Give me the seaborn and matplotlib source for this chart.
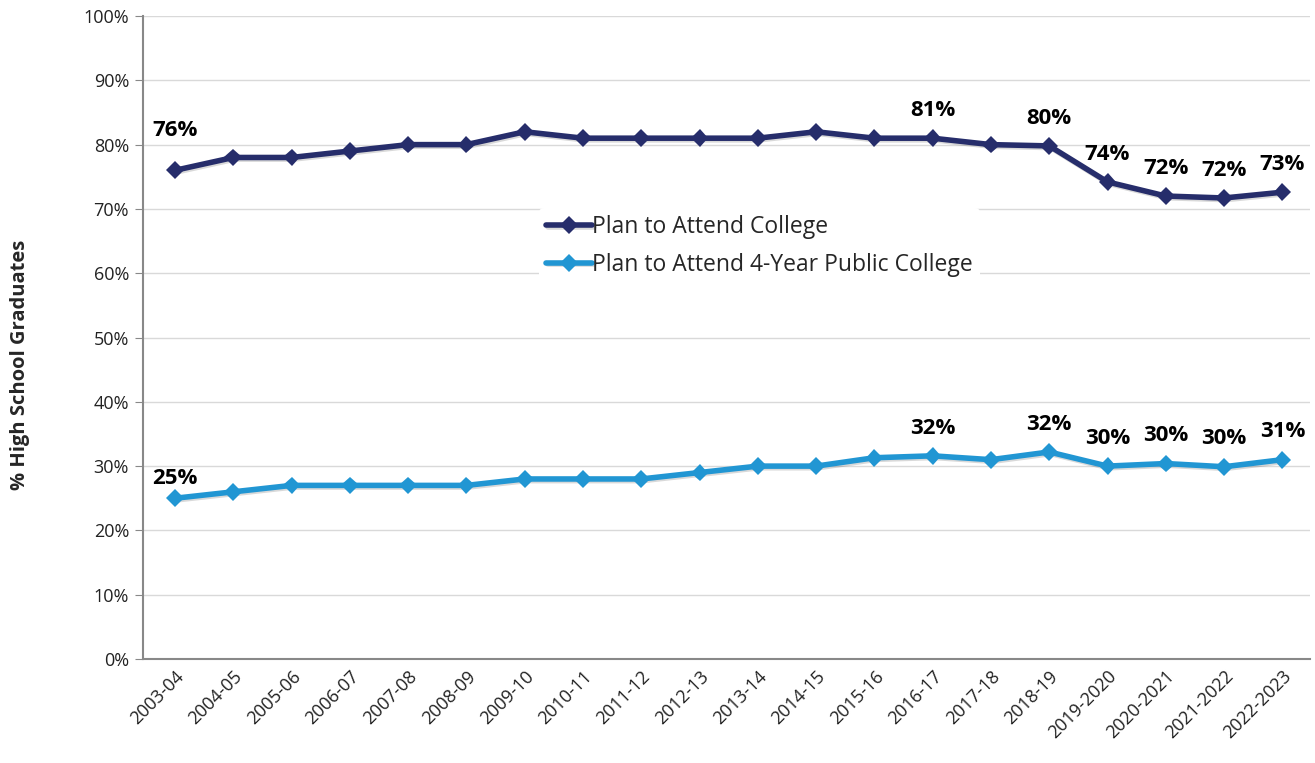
import numpy as np
import pandas as pd
import seaborn as sns
import matplotlib.pyplot as plt
import matplotlib.patheffects as pe
from matplotlib.ticker import PercentFormatter

years = [
    "2003-04", "2004-05", "2005-06", "2006-07", "2007-08", "2008-09", "2009-10",
    "2010-11", "2011-12", "2012-13", "2013-14", "2014-15", "2015-16", "2016-17",
    "2017-18", "2018-19", "2019-2020", "2020-2021", "2021-2022", "2022-2023",
]
college = [76, 78, 78, 79, 80, 80, 82, 81, 81, 81, 81, 82, 81, 81, 80, 79.8, 74.2, 72.0, 71.7, 72.6]
public4 = [25, 26, 27, 27, 27, 27, 28, 28, 28, 29, 30, 30, 31.3, 31.6, 31.0, 32.2, 30.0, 30.4, 29.9, 31.0]
labeled = [0, 13, 15, 16, 17, 18, 19]

names = ["Plan to Attend College", "Plan to Attend 4-Year Public College"]
colors = ["#262d6b", "#2196d3"]

df = pd.DataFrame({"year": years * 2,
                   "pct": college + public4,
                   "series": [names[0]] * len(years) + [names[1]] * len(years)})
df["x"] = list(range(len(years))) * 2

sns.set_style("white")
plt.rcParams["font.family"] = ["Open Sans", "DejaVu Sans"]

fig = plt.figure(figsize=(13.15, 7.63), dpi=100)
ax = fig.add_axes([0.1087, 0.1363, 0.8873, 0.8427])

shadow = [pe.SimpleLineShadow(offset=(1, -1.2), alpha=0.15, shadow_color="black"), pe.Normal()]
sns.lineplot(data=df, x="x", y="pct", hue="series", palette=colors, marker="D",
             markersize=9, linewidth=4, markeredgewidth=0, ax=ax,
             path_effects=shadow)

# data labels
for vals in (college, public4):
    for i in labeled:
        off = 20 if i > 0 else (29 if vals is college else 14)
        ax.annotate(f"{vals[i]:.0f}%", (i, vals[i]), xytext=(0, off),
                    textcoords="offset points", ha="center", va="center",
                    fontsize=16, fontweight="bold", color="black")

ax.set_xlim(-0.55, len(years) - 0.53)
ax.set_ylim(0, 100)
ax.set_yticks(np.arange(0, 101, 10))
ax.yaxis.set_major_formatter(PercentFormatter(decimals=0))
ax.set_xticks(range(len(years)))
ax.set_xticklabels(years, rotation=45, ha="right", rotation_mode="anchor")
ax.tick_params(axis="both", labelsize=13, colors="#222222")
ax.tick_params(axis="y", direction="out", length=6, color="#888888", left=True, pad=4)
ax.tick_params(axis="x", direction="out", length=0, pad=6)
ax.grid(axis="y", color="#d9d9d9", linewidth=1)
ax.set_axisbelow(True)
for s in ["top", "right"]:
    ax.spines[s].set_visible(False)
ax.spines["left"].set_color("#888888")
ax.spines["bottom"].set_color("#888888")
ax.spines["left"].set_linewidth(1.5)
ax.spines["bottom"].set_linewidth(1.5)

ax.set_xlabel("")
ax.set_ylabel("% High School Graduates", fontsize=14.5, fontweight="bold")
ax.yaxis.set_label_coords(-0.097, 0.457)

leg = ax.legend(loc="upper left", bbox_to_anchor=(0.33, 0.719), frameon=True,
                fontsize=16.5, handlelength=2.0, handletextpad=0.0, borderpad=0.3,
                labelspacing=0.6)
leg.get_frame().set_edgecolor("none")
leg.get_frame().set_facecolor("white")
leg.get_frame().set_alpha(1)

fig.savefig("out.png", dpi=100)
